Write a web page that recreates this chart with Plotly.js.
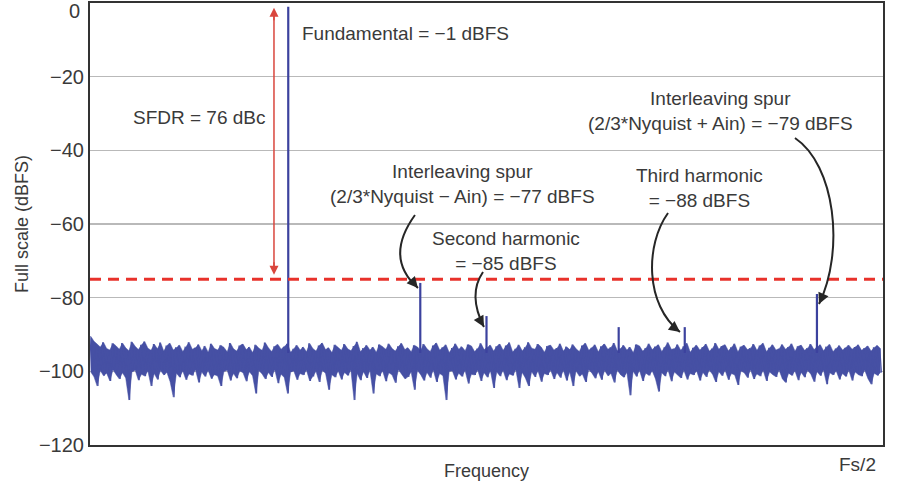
<!DOCTYPE html>
<html>
<head>
<meta charset="utf-8">
<script src="https://cdn.plot.ly/plotly-3.0.1.min.js"></script>
<style>html,body{margin:0;padding:0;background:#fff;}#chart{width:900px;height:490px;}</style>
</head>
<body>
<div id="chart"></div>
<script>
// ---- data ----
// upper (peak) and lower (valley) noise-floor readings, left to right across 0..Fs/2
const noiseHigh = [
-90.5,-91.8,-92.6,-93.4,-92.1,-93.8,-94.2,-92.4,-93.1,-94.0,
-92.3,-93.6,-94.4,-92.0,-93.2,-94.1,-92.8,-91.9,-93.7,-94.3,
-92.6,-93.9,-92.2,-94.5,-93.0,-92.4,-94.2,-93.5,-92.9,-94.6,
-93.3,-92.1,-94.0,-93.6,-92.7,-94.4,-93.1,-94.8,-92.5,-93.8,
-94.2,-92.9,-93.5,-94.7,-92.3,-93.9,-94.5,-93.0,-92.6,-94.1,
-93.4,-94.9,-92.8,-93.7,-94.3,-92.2,-93.6,-94.6,-93.2,-92.7,
-94.0,-93.3,-92.5,-94.8,-93.9,-92.9,-94.2,-93.4,-94.7,-92.4,
-93.8,-94.5,-93.0,-92.3,-94.1,-93.6,-94.9,-92.8,-93.5,-94.3,
-92.6,-93.9,-94.4,-93.1,-92.0,-94.6,-93.7,-92.9,-94.2,-93.4,
-94.8,-92.7,-93.3,-94.0,-92.5,-93.8,-94.5,-93.2,-92.4,-94.1,
-93.6,-94.7,-92.9,-93.4,-94.3,-92.6,-93.9,-94.6,-93.0,-92.3,
-94.2,-93.5,-92.8,-94.9,-93.7,-92.5,-94.0,-93.3,-94.4,-92.7,
-93.1,-94.6,-93.8,-92.4,-94.1,-93.6,-92.9,-94.5,-93.2,-92.6,
-94.3,-93.0,-92.2,-94.7,-93.9,-92.8,-94.4,-93.5,-92.1,-93.7,
-94.0,-92.6,-93.4,-94.8,-93.1,-92.9,-94.2,-93.7,-92.5,-94.5,
-93.3,-94.1,-92.7,-93.9,-94.6,-93.0,-92.4,-94.3,-93.6,-92.8,
-94.7,-93.2,-92.6,-94.0,-93.5,-92.3,-94.4,-93.8,-92.9,-94.2,
-93.4,-94.9,-92.7,-93.1,-94.5,-93.7,-92.5,-94.1,-93.3,-92.8,
-94.6,-93.5,-92.2,-94.0,-93.9,-92.7,-94.3,-93.2,-92.4,-94.8,
-93.6,-92.9,-94.2,-93.4,-92.6,-94.5,-93.8,-92.3,-94.0,-93.1,
-92.8,-94.4,-93.5,-92.5,-94.7,-93.3,-92.9,-94.1,-93.7,-92.6,
-94.3,-93.0,-92.4,-94.6,-93.6,-92.8,-94.2,-93.9,-92.7,-94.0,
-93.4,-92.5,-94.5,-93.2,-92.9,-94.3,-93.7,-92.6,-94.1,-93.5,
-92.8,-94.4,-93.3,-92.7,-94.6,-93.8,-93.0,-94.2,-93.6,-92.9,
-94.0,-93.4,-92.8,-94.3,-93.7,-93.1,-94.5,-93.5,-93.0,-93.9
];
const noiseLow = [
-100.2,-101.5,-104.0,-99.8,-101.2,-100.5,-102.6,-99.6,-100.9,-102.1,
-100.4,-101.8,-107.8,-100.1,-99.7,-102.4,-100.8,-101.3,-99.9,-104.0,
-100.6,-102.2,-99.8,-101.0,-100.3,-102.8,-107.0,-100.5,-101.6,-99.9,
-102.3,-100.7,-101.1,-99.6,-103.0,-100.2,-101.4,-99.8,-102.0,-100.9,
-101.3,-104.0,-100.0,-99.7,-102.5,-100.6,-101.9,-99.9,-100.4,-102.7,
-100.1,-101.2,-106.0,-99.8,-100.7,-102.1,-100.3,-101.5,-99.6,-103.2,
-100.8,-101.7,-106.0,-100.2,-99.9,-102.3,-100.6,-101.0,-99.7,-102.6,
-101.4,-100.0,-102.9,-99.8,-100.5,-105.0,-100.9,-101.6,-99.9,-102.2,
-100.3,-101.1,-99.7,-107.8,-100.6,-102.4,-100.1,-101.8,-99.8,-106.0,
-100.7,-101.3,-99.9,-102.7,-100.4,-101.0,-103.1,-99.6,-100.8,-102.0,
-101.5,-100.2,-105.0,-99.8,-100.9,-102.5,-100.3,-101.7,-99.7,-102.9,
-100.6,-101.2,-107.8,-100.0,-99.9,-102.2,-100.5,-101.4,-99.8,-103.3,
-100.8,-101.0,-99.7,-102.6,-100.4,-101.6,-99.9,-104.5,-100.2,-101.3,
-99.8,-102.4,-100.7,-101.1,-99.6,-104.5,-100.3,-101.8,-104.0,-100.1,
-101.5,-99.9,-102.8,-100.6,-101.0,-99.7,-102.1,-100.4,-101.7,-99.8,
-102.5,-100.2,-104.0,-99.9,-101.3,-100.8,-102.9,-99.6,-100.5,-101.9,
-100.1,-102.3,-99.8,-101.2,-100.6,-103.0,-99.7,-100.9,-101.6,-100.3,
-106.5,-100.0,-101.4,-99.8,-102.6,-100.5,-101.1,-99.9,-102.0,-105.5,
-100.4,-101.3,-99.7,-102.7,-100.2,-100.9,-101.8,-99.8,-102.2,-100.6,
-101.0,-99.9,-102.5,-100.3,-101.5,-99.7,-100.8,-102.9,-100.1,-101.2,
-99.8,-102.3,-100.6,-101.0,-103.7,-99.9,-100.4,-101.7,-99.6,-102.1,
-100.7,-101.3,-99.8,-102.6,-100.2,-100.9,-101.5,-99.7,-102.0,-103.0,
-100.5,-101.1,-99.9,-102.4,-100.3,-101.6,-99.8,-100.8,-102.8,-100.1,
-101.2,-99.7,-103.5,-100.4,-101.0,-99.9,-102.2,-100.6,-101.4,-99.8,
-102.5,-100.2,-100.9,-101.3,-99.7,-102.0,-103.5,-100.5,-101.1,-100.3
];
// spurs / tones: frequency as fraction of Fs/2, level in dBFS
const spikeNames  = ['Fundamental','Interleaving spur −','Second harmonic','Spur','Third harmonic','Interleaving spur +'];
const spikeFreqs  = [0.25, 0.4165, 0.5, 0.6667, 0.75, 0.9167];
const spikeLevels = [-1, -76, -85, -88, -88, -79];
const spikeBase   = -95;
const sfdrLevel   = -75;
const sfdrFreq    = 0.232;
const yTickVals   = [-120, -100, -80, -60, -40, -20];
const yTickText   = ['−120', '−100', '−80', '−60', '−40', '−20'];
const topTickText = '0';

// ---- build traces ----
const N = noiseHigh.length;
const nx = [], ny = [];
const ex = [];
for (let i = 0; i < N; i++) {
  nx.push(i / N); ny.push(noiseHigh[i]);
  nx.push((i + 0.5) / N); ny.push(noiseLow[i]);
  ex.push((i + 0.25) / N);
}
const sx = [], sy = [];
for (let i = 0; i < spikeFreqs.length; i++) {
  sx.push(spikeFreqs[i], spikeFreqs[i], null);
  sy.push(spikeBase, spikeLevels[i], null);
}
const blue = '#4650a4';
// solid core of the noise band: filled between the valley and peak readings
const lowEnv  = {x: ex, y: noiseLow,  mode: 'lines', line: {color: blue, width: 0.5}, hoverinfo: 'skip'};
const highEnv = {x: ex, y: noiseHigh, mode: 'lines', line: {color: blue, width: 0.5}, fill: 'tonexty', fillcolor: blue, hoverinfo: 'skip'};
const noiseTrace = {x: nx, y: ny, mode: 'lines', line: {color: blue, width: 1.2}, hoverinfo: 'skip'};
const spikeTrace = {x: sx, y: sy, mode: 'lines', line: {color: '#3c429e', width: 2.2}, hoverinfo: 'skip'};

const textFont = {family: 'Liberation Sans, Arial, sans-serif', size: 19, color: '#3a3a3a'};
const curveColor = '#262626';
const red = '#d9463d';

function curve(d) {
  return {type: 'path', xref: 'x', yref: 'y', path: d, line: {color: curveColor, width: 2}};
}
function head(x, y, ax, ay) {
  return {x: x, y: y, xref: 'x', yref: 'y', ax: ax, ay: ay, text: '', showarrow: true,
          arrowhead: 2, arrowsize: 1.1, arrowwidth: 2, arrowcolor: curveColor, standoff: 0};
}

const layout = {
  width: 900, height: 490,
  margin: {l: 90, r: 17, t: 3, b: 45},
  paper_bgcolor: '#ffffff', plot_bgcolor: '#ffffff',
  showlegend: false,
  font: {family: 'Liberation Sans, Arial, sans-serif', color: '#3a3a3a'},
  xaxis: {
    range: [0, 1], showticklabels: false, ticks: '', showgrid: false, zeroline: false,
    showline: true, mirror: true, linecolor: '#333333', linewidth: 2,
    title: {text: 'Frequency', font: {size: 18, color: '#3a3a3a'}, standoff: 18}
  },
  yaxis: {
    range: [-120, 0], tickvals: yTickVals, ticktext: yTickText, ticks: '',
    tickfont: {size: 20, color: '#3a3a3a'},
    showgrid: true, gridcolor: '#b9b9b9', gridwidth: 1.5, zeroline: false,
    showline: true, mirror: true, linecolor: '#333333', linewidth: 2,
    title: {text: 'Full scale (dBFS)', font: {size: 18, color: '#3a3a3a'}, standoff: 6}
  },
  shapes: [
    {type: 'line', xref: 'paper', x0: 0, x1: 1, yref: 'y', y0: sfdrLevel, y1: sfdrLevel,
     line: {color: '#e8322b', width: 3, dash: '11px,7px'}},
    {type: 'line', xref: 'x', x0: sfdrFreq, x1: sfdrFreq, yref: 'y', y0: -3, y1: sfdrLevel + 3,
     line: {color: red, width: 1.5}},
    curve('M 0.4098,-57.56 Q 0.3707,-69.23 0.4136,-77.37'),
    curve('M 0.4956,-73.03 Q 0.4760,-79.14 0.4968,-87.96'),
    curve('M 0.7289,-57.01 C 0.6999,-65.70 0.6999,-81.99 0.7440,-89.32'),
    curve('M 0.8890,-36.65 C 0.9395,-43.98 0.9521,-67.06 0.9193,-81.72')
  ],
  annotations: [
    {xref: 'paper', yref: 'y', x: 0, y: 0, text: topTickText, showarrow: false,
     xanchor: 'right', yanchor: 'middle', xshift: -8, yshift: -8, font: {family: textFont.family, size: 20, color: '#3a3a3a'}},
    // SFDR double arrow heads
    {x: sfdrFreq, y: -1.3, ax: 0, ay: 14, xref: 'x', yref: 'y',
     text: '', showarrow: true, arrowhead: 2, arrowsize: 1.2, arrowwidth: 1.5, arrowcolor: red, standoff: 0},
    {x: sfdrFreq, y: sfdrLevel + 1.2, ax: 0, ay: -14, xref: 'x', yref: 'y',
     text: '', showarrow: true, arrowhead: 2, arrowsize: 1.2, arrowwidth: 1.5, arrowcolor: red, standoff: 0},
    {x: 0.1387, y: -31.0, xref: 'x', yref: 'y', text: 'SFDR = 76 dBc', showarrow: false,
     xanchor: 'center', yanchor: 'middle', font: textFont},
    {x: 0.2648, y: -8.4, xref: 'x', yref: 'y', text: 'Fundamental = −1 dBFS', showarrow: false,
     xanchor: 'left', yanchor: 'middle', font: textFont},
    {x: 0.4703, y: -49.1, xref: 'x', yref: 'y', text: 'Interleaving spur<br>(2/3*Nyquist − Ain) = −77 dBFS', showarrow: false,
     xanchor: 'center', yanchor: 'middle', align: 'center', font: textFont},
    {x: 0.5246, y: -67.3, xref: 'x', yref: 'y', text: 'Second harmonic<br>= −85 dBFS', showarrow: false,
     xanchor: 'center', yanchor: 'middle', align: 'center', font: textFont},
    {x: 0.768, y: -50.2, xref: 'x', yref: 'y', text: 'Third harmonic<br>= −88 dBFS', showarrow: false,
     xanchor: 'center', yanchor: 'middle', align: 'center', font: textFont},
    {x: 0.7957, y: -29.3, xref: 'x', yref: 'y', text: 'Interleaving spur<br>(2/3*Nyquist + Ain) = −79 dBFS', showarrow: false,
     xanchor: 'center', yanchor: 'middle', align: 'center', font: textFont},
    {x: 0.9937, y: -0.045, xref: 'paper', yref: 'paper', text: 'Fs/2', showarrow: false,
     xanchor: 'right', yanchor: 'middle', font: textFont},
    head(0.4136, -77.37, -7, -8),
    head(0.4968, -87.96, -5, -9),
    head(0.7440, -89.32, -8, -6),
    head(0.9193, -81.72, 4, -9)
  ]
};

Plotly.newPlot('chart', [lowEnv, highEnv, noiseTrace, spikeTrace], layout, {displayModeBar: false, staticPlot: true});
</script>
</body>
</html>
